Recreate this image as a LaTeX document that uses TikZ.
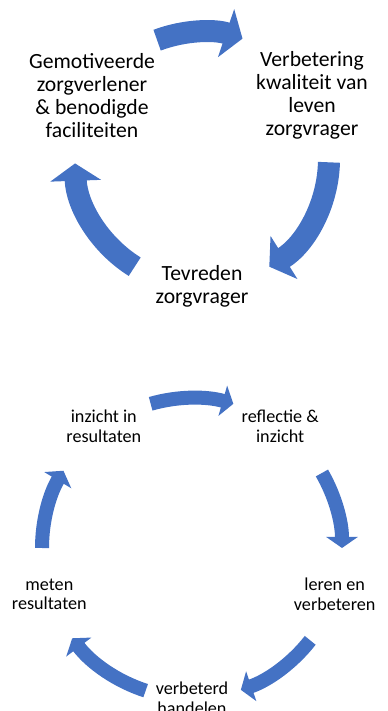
\documentclass[tikz,border=0pt]{standalone}
\usepackage{fontspec}
\setmainfont{Carlito}
\usetikzlibrary{arrows.meta}
\definecolor{cycleblue}{HTML}{4472C4}

\begin{document}
\begin{tikzpicture}[x=0.03cm,y=0.03cm]
			\tikzstyle{bigtext} = [align=center, font=\fontsize{18.5}{19.6}\selectfont]
			\tikzstyle{smalltext} = [align=center, font=\fontsize{15.5}{17}\selectfont]
			\tikzset{bigarrow/.style = {cycleblue, line width=0.66cm, -{Triangle[width=1.5cm,length=0.52cm]}}}
			\tikzset{smallarrow/.style = {cycleblue, line width=0.42cm, -{Triangle[width=0.93cm,length=0.33cm]}}}

			\clip (0,0) rectangle (387,711);
			\coordinate (ctop) at (202,552);
			\coordinate (cbot) at (192,163);

			\node[bigtext](zorgverlener) at ([shift={(150:127)}]ctop) {Gemotiveerde\\zorgverlener\\\& benodigde\\faciliteiten};
			\node[bigtext](kwaliteit) at ([shift={(30:127)}]ctop) {Verbetering\\kwaliteit van\\leven\\zorgvrager};
			\node[bigtext](tevreden) at ([shift={(270:127)}]ctop) {Tevreden\\zorgvrager};
			\draw[bigarrow]([shift={(110.7:127)}]ctop) arc[start angle=110.7, end angle=71.4, radius=127];
			\draw[bigarrow]([shift={(-1.5:127)}]ctop) arc[start angle=-1.5, end angle=-58, radius=127];
			\draw[bigarrow]([shift={(238:127)}]ctop) arc[start angle=238, end angle=182, radius=127];

			\node[smalltext](inzicht) at ([shift={(126:150)}]cbot) {inzicht in\\resultaten};
			\node[smalltext](reflectie) at ([shift={(54:150)}]cbot) {reflectie \&\\inzicht};
			\node[smalltext](leren) at ([shift={(-18:150)}]cbot) {leren en\\verbeteren};
			\node[smalltext](handelen) at ([shift={(-90:150)}]cbot) {verbeterd\\handelen};
			\node[smalltext](meten) at ([shift={(198:150)}]cbot) {meten\\resultaten};
			\draw[smallarrow]([shift={(106:150)}]cbot) arc[start angle=106, end angle=74, radius=150];
			\draw[smallarrow]([shift={(30:150)}]cbot) arc[start angle=30, end angle=0, radius=150];
			\draw[smallarrow]([shift={(-38:150)}]cbot) arc[start angle=-38, end angle=-71, radius=150];
			\draw[smallarrow]([shift={(252:150)}]cbot) arc[start angle=252, end angle=217, radius=150];
			\draw[smallarrow]([shift={(180:150)}]cbot) arc[start angle=180, end angle=149, radius=150];

			\end{tikzpicture}
\end{document}
